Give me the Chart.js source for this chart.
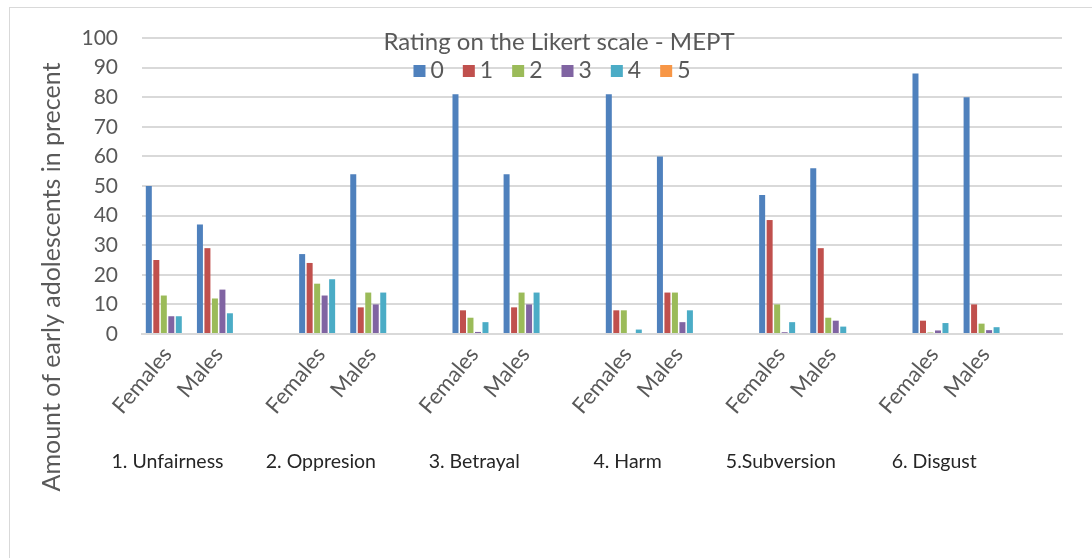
<!DOCTYPE html>
<html>
<head>
<meta charset="utf-8">
<script src="https://cdn.jsdelivr.net/npm/chart.js@4.4.1/dist/chart.umd.min.js"></script>
<style>
  html, body { margin: 0; padding: 0; background: #fff; }
  #wrap { position: relative; width: 1092px; height: 558px; }
  #frame { position: absolute; left: 9px; top: 7px; width: 1090px; height: 560px;
           border-left: 1px solid #d9d9d9; border-top: 1px solid #d9d9d9; pointer-events: none; }
</style>
</head>
<body>
<div id="wrap">
  <canvas id="grafico" width="1092" height="558"></canvas>
  <div id="frame"></div>
</div>
<script>
// data
const grupos = ["1. Unfairness", "2. Oppresion", "3. Betrayal", "4. Harm", "5.Subversion", "6. Disgust"];
const sexos = ["Females", "Males"];
const ratings = ["0", "1", "2", "3", "4", "5"];
const yTicks = [0, 10, 20, 30, 40, 50, 60, 70, 80, 90, 100];

// one value per Females/Males bar, groups in order
const rating0 = [50, 37, 27, 54, 81, 54, 81, 60, 47, 56, 88, 80];
const rating1 = [25, 29, 24, 9, 8, 9, 8, 14, 38.5, 29, 4.5, 10];
const rating2 = [13, 12, 17, 14, 5.5, 14, 8, 14, 10, 5.5, 0.5, 3.5];
const rating3 = [6, 15, 13, 10, 0.7, 10, 0, 4, 0.6, 4.5, 1.2, 1.3];
const rating4 = [6, 7, 18.5, 14, 4, 14, 1.5, 8, 4, 2.5, 3.7, 2.3];
const rating5 = [0, 0, 0, 0, 0, 0, 0, 0, 0, 0, 0, 0];

const colores = ["#4f81bd", "#c0504d", "#9bbb59", "#8064a2", "#4bacc6", "#f79646"];
const fuente = "Lato, 'Open Sans', sans-serif";

// Females, Males, blank spacer per group
const etiquetas = [];
grupos.forEach(() => { etiquetas.push(sexos[0], sexos[1], ""); });

function conHueco(valores) {
    const out = [];
    for (let g = 0; g < grupos.length; g++) {
        out.push(valores[g * 2], valores[g * 2 + 1], null);
    }
    return out;
}

const series = [rating0, rating1, rating2, rating3, rating4, rating5];

const datasets = series.map((valores, i) => ({
    label: ratings[i],
    data: conHueco(valores),
    backgroundColor: colores[i],
    borderWidth: 0,
    categoryPercentage: 0.88,
    barPercentage: 0.8
}));

const textos = {
    id: "textos",
    afterDraw(chart) {
        const ctx = chart.ctx;
        const x = chart.scales.x;
        ctx.save();

        // title
        ctx.fillStyle = "#595959";
        ctx.font = "24px " + fuente;
        ctx.textAlign = "center";
        ctx.textBaseline = "middle";
        ctx.fillText("Rating on the Likert scale - MEPT", 559, 42);

        // legend
        ctx.font = "23px " + fuente;
        ctx.textAlign = "left";
        let anchos = chart.data.datasets.map(d => 12 + 5 + ctx.measureText(d.label).width);
        let gap = 19;
        let total = anchos.reduce((a, b) => a + b, 0) + gap * (anchos.length - 1);
        let lx = 552 - total / 2;
        chart.data.datasets.forEach((d, i) => {
            ctx.fillStyle = d.backgroundColor;
            ctx.fillRect(lx, 65, 12, 12);
            ctx.fillStyle = "#595959";
            ctx.fillText(d.label, lx + 17, 71);
            lx += anchos[i] + gap;
        });

        // y axis title
        ctx.save();
        ctx.translate(52, 277);
        ctx.rotate(-Math.PI / 2);
        ctx.textAlign = "center";
        ctx.font = "25px " + fuente;
        ctx.fillStyle = "#595959";
        ctx.fillText("Amount of early adolescents in precent", 0, 0);
        ctx.restore();

        // group labels under the Females bar of each group
        ctx.font = "19.5px " + fuente;
        ctx.fillStyle = "#262626";
        ctx.textAlign = "center";
        grupos.forEach((g, i) => {
            ctx.fillText(g, x.getPixelForValue(i * 3), 462);
        });
        ctx.restore();
    }
};

new Chart("grafico", {
    type: "bar",
    data: { labels: etiquetas, datasets: datasets },
    options: {
        responsive: false,
        animation: false,
        layout: { padding: { top: 38, right: 30, left: 0, bottom: 0 } },
        plugins: {
            legend: { display: false },
            title: { display: false },
            tooltip: { enabled: false }
        },
        scales: {
            x: {
                grid: { display: false, drawTicks: false },
                border: { color: "#d9d9d9", width: 2 },
                ticks: {
                    color: "#595959",
                    font: { family: fuente, size: 22 },
                    maxRotation: 50,
                    minRotation: 50,
                    autoSkip: false,
                    padding: 8
                },
                afterFit(scale) { scale.height = 558 - 334; }
            },
            y: {
                min: 0,
                max: 100,
                afterBuildTicks(scale) { scale.ticks = yTicks.map(v => ({ value: v })); },
                grid: { color: "#d9d9d9", lineWidth: 2, drawTicks: false },
                border: { display: false },
                ticks: {
                    color: "#595959",
                    font: { family: fuente, size: 21 },
                    padding: 24
                },
                afterFit(scale) { scale.width = 142; }
            }
        }
    },
    plugins: [textos]
});
</script>
</body>
</html>
